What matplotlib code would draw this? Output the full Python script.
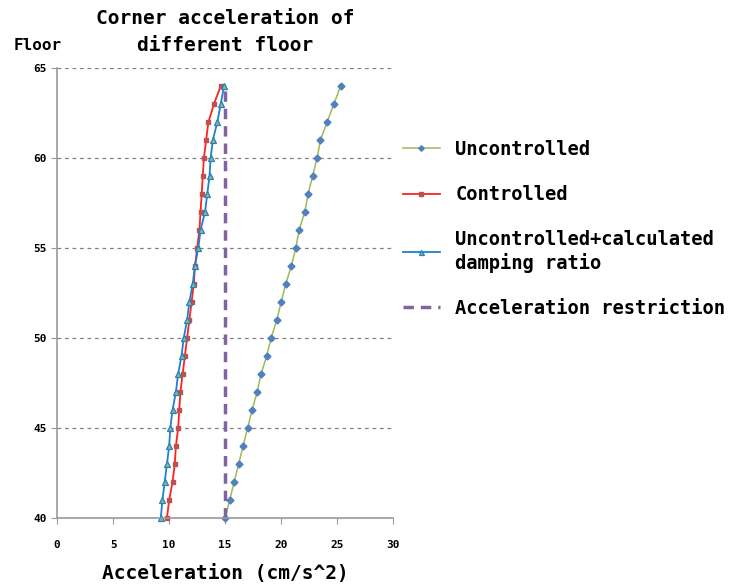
import numpy as np
import matplotlib.pyplot as plt

# floors and corner accelerations
floors = list(range(40, 65))
uncontrolled = [15.0, 15.4, 15.8, 16.2, 16.6, 17.0, 17.4, 17.85, 18.2, 18.7,
                19.1, 19.6, 20.0, 20.4, 20.9, 21.3, 21.6, 22.1, 22.4, 22.8,
                23.2, 23.5, 24.1, 24.7, 25.3]
controlled = [9.8, 10.0, 10.3, 10.5, 10.6, 10.8, 10.9, 11.0, 11.2, 11.4,
              11.6, 11.8, 12.0, 12.2, 12.3, 12.5, 12.7, 12.8, 12.9, 13.0,
              13.1, 13.3, 13.5, 14.0, 14.6]
damped = [9.25, 9.4, 9.6, 9.8, 10.0, 10.1, 10.3, 10.6, 10.8, 11.1,
          11.3, 11.6, 11.8, 12.1, 12.3, 12.6, 12.8, 13.2, 13.4, 13.6,
          13.7, 13.9, 14.3, 14.6, 14.9]
restriction_x = [15, 15]
restriction_y = [40, 64]

xticks = [0, 5, 10, 15, 20, 25, 30]
yticks = [40, 45, 50, 55, 60, 65]

plt.rcParams['font.family'] = ['DejaVu Sans Mono']
plt.rcParams['font.weight'] = 'bold'

fig = plt.figure(figsize=(7.42, 5.86), dpi=100)
ax = fig.add_axes([0.077, 0.116, 0.453, 0.768])

for y in yticks[1:]:
    ax.axhline(y, color='#808080', lw=0.9, ls=(0, (3, 3)), zorder=0)

ax.plot(uncontrolled, floors, color='#9BBB59', lw=1.1, marker='D', ms=3.5,
        mfc='#4F81BD', mec='#4F81BD', label='Uncontrolled', clip_on=False)
ax.plot(controlled, floors, color='#FF2020', lw=1.3, marker='s', ms=3.5,
        mfc='#C0504D', mec='#C0504D', label='Controlled', clip_on=False)
ax.plot(damped, floors, color='#1F7FD0', lw=1.3, marker='^', ms=4.5,
        mfc='#9BBB59', mec='#1F7FD0', mew=0.9,
        label='Uncontrolled+calculated\ndamping ratio', clip_on=False)
ax.plot(restriction_x, restriction_y, color='#8064A2', lw=2.5, ls=(0, (3, 2)),
        label='Acceleration restriction')

ax.set_xlim(0, 30)
ax.set_ylim(40, 65)
ax.set_xticks(xticks)
ax.set_yticks(yticks)
ax.tick_params(axis='both', labelsize=8, colors='#999999', labelcolor='black', length=4)
ax.tick_params(axis='x', direction='out', pad=12)
for s in ['top', 'right']:
    ax.spines[s].set_visible(False)
for s in ['left', 'bottom']:
    ax.spines[s].set_color('#999999')
    ax.spines[s].set_linewidth(1.2)

ax.set_xlabel('Acceleration (cm/s^2)', fontsize=14, fontweight='bold', labelpad=10)
ax.set_title('Corner acceleration of\ndifferent floor', fontsize=14, fontweight='bold',
             pad=12, linespacing=1.55)
fig.text(0.018, 0.91, 'Floor', fontsize=11.5, fontweight='bold', va='bottom')

fig.legend(loc='upper left', bbox_to_anchor=(0.52, 0.79), frameon=False,
           fontsize=13.5, labelspacing=1.4, handlelength=2.0, handletextpad=0.8,
           markerscale=0.8)

fig.savefig('out.png', dpi=100)
